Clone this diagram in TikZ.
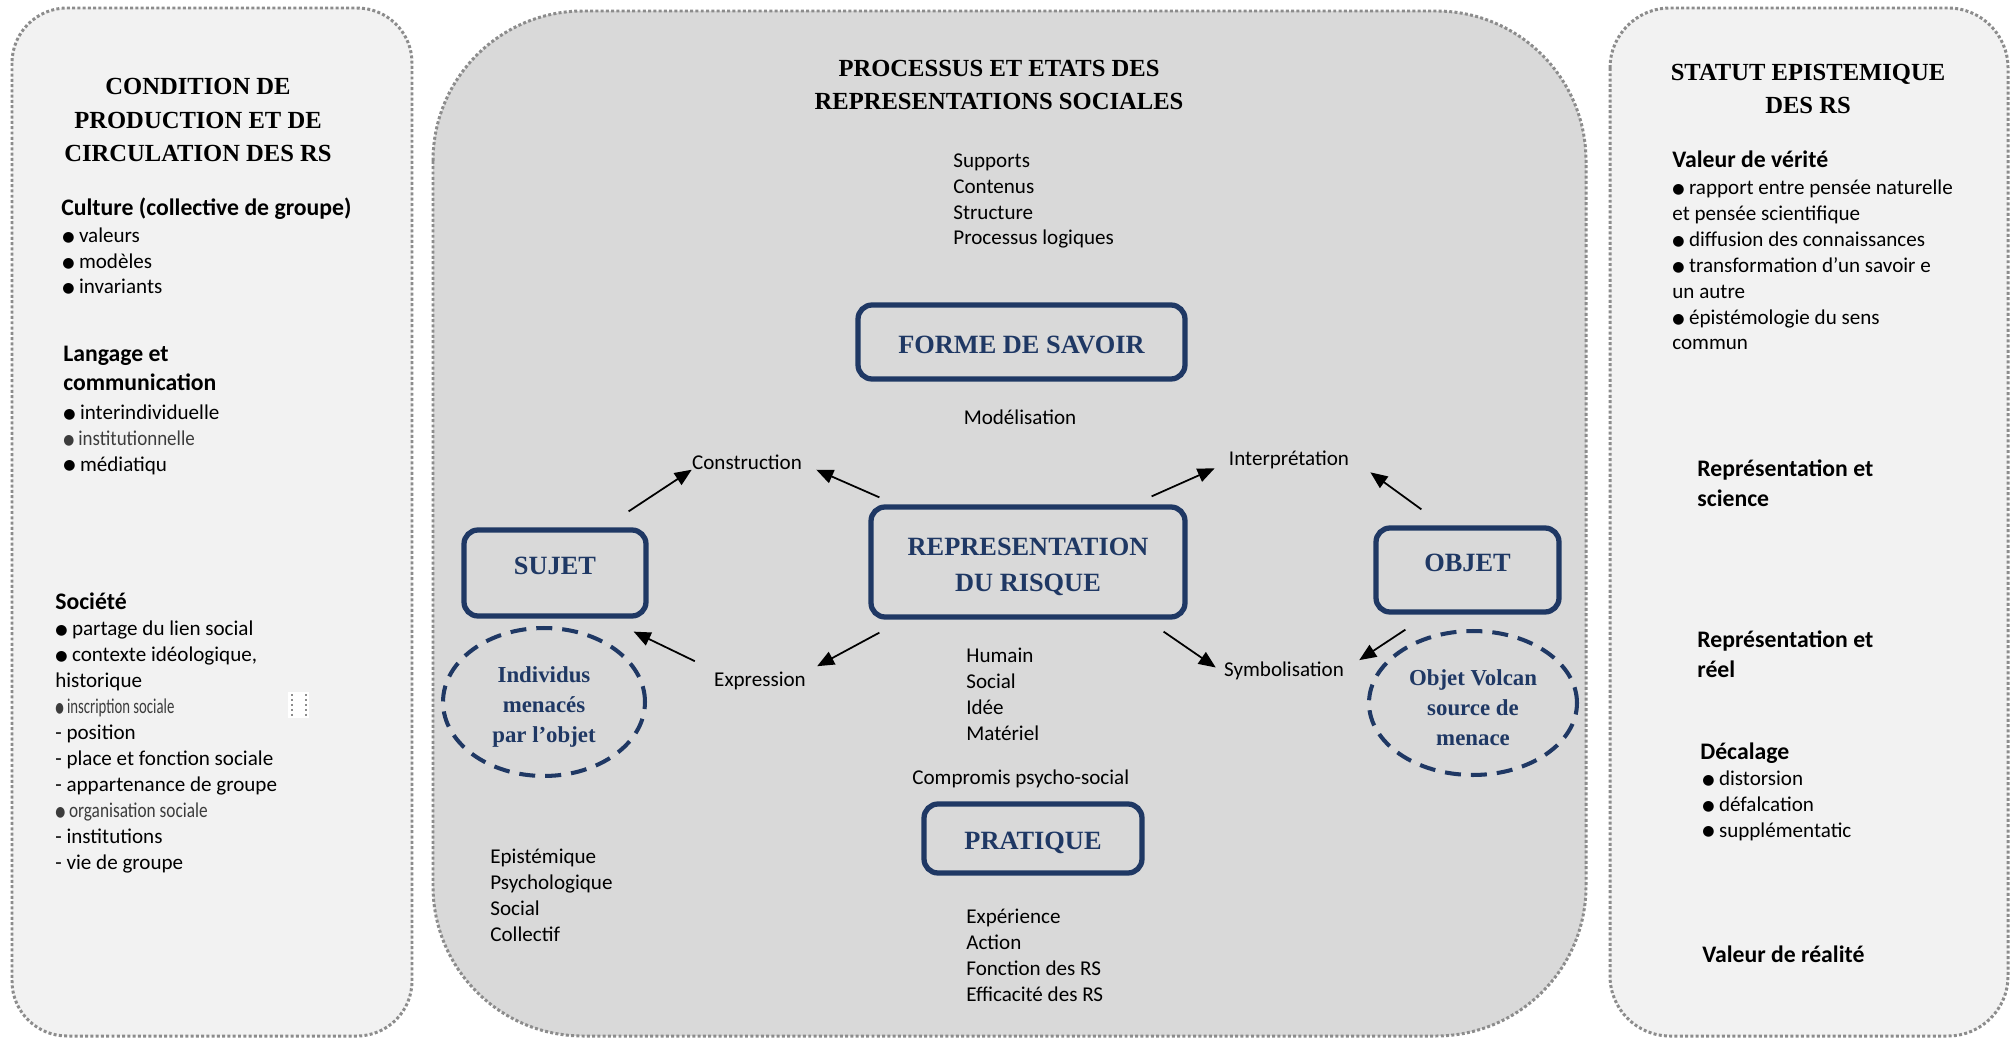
\documentclass[tikz,border=0pt]{standalone}
\usepackage{fontspec}
\usepackage{graphicx}
\setmainfont{Carlito}
\newfontfamily\rsserif{Liberation Serif}
\newfontfamily\rssym{DejaVu Sans}
\usetikzlibrary{arrows.meta,shapes.geometric}

\definecolor{rsblue}{RGB}{31,56,100}
\definecolor{panelgray}{RGB}{242,242,242}
\definecolor{midgray}{RGB}{217,217,217}
\definecolor{dotgray}{RGB}{140,140,140}
\definecolor{pastegray}{RGB}{60,60,60}

\newcommand{\bodyfont}{\fontsize{12}{14.74}\selectfont}
\newcommand{\headfont}{\fontsize{13.5}{17}\selectfont\bfseries}
\newcommand{\rsbullet}{\raisebox{0.6pt}{\rssym\fontsize{8}{8}\selectfont ●}\hspace{2.5pt}}
\newcommand{\pasted}[2]{\textcolor{pastegray}{\scalebox{#1}[1]{#2}}}
\newcommand{\rsstrut}[1]{\rule{0pt}{#1}}

\begin{document}
\begin{tikzpicture}[x=0.02cm, y=-0.02cm,
    panel/.style={draw=dotgray, line width=1.7pt, dash pattern=on 1.7pt off 1.3pt},
    bigbox/.style={draw=rsblue, line width=3pt, rounded corners=0.28cm, text=rsblue,
        font=\rsserif\bfseries\fontsize{15}{20.4}\selectfont, align=center},
    threat/.style={ellipse, draw=rsblue, line width=2.3pt, dash pattern=on 0.32cm off 0.2cm,
        text=rsblue, font=\rsserif\bfseries\fontsize{13}{17}\selectfont, align=center, inner sep=0},
    paneltitle/.style={font=\rsserif\bfseries\fontsize{14}{19.3}\selectfont, align=center, inner sep=0, anchor=base},
    txt/.style={font=\bodyfont, align=left, inner sep=0, anchor=base west},
    head/.style={font=\headfont, align=left, inner sep=0, anchor=base west},
    lbl/.style={font=\bodyfont, inner sep=0},
    arr/.style={line width=1pt, -{Triangle[length=0.34cm,width=0.28cm]}}]

    \useasboundingbox (0,0) rectangle (2011,1040);
    \fill[white] (0,0) rectangle (2011,1040);

    \draw[panel, fill=panelgray, rounded corners=1.1cm] (12,8) rectangle (412,1036);
    \draw[panel, fill=midgray, rounded corners=3cm] (433,11) rectangle (1586,1036);
    \draw[panel, fill=panelgray, rounded corners=1.2cm] (1610,8) rectangle (2008,1036);

    % condition de production (multi-line nodes sit on their last line)
    \node[paneltitle] (condtitle) at (198,162) {CONDITION DE\\PRODUCTION ET DE\\CIRCULATION DES RS};
    \node[head] (culture) at (61,216) {Culture (collective de groupe)};
    \node[txt] (culturelist) at (62,294) {\rsbullet valeurs\\\rsbullet modèles\\\rsbullet invariants};
    \node[head] (langage) at (63,391) {Langage et\\communication};
    \node[txt] (langlist) at (63,471) {\rsbullet interindividuelle\\\pasted{0.9}{\rsbullet institutionnelle}\\\rsbullet médiatiqu};
    \node[head] (societe) at (55,609) {Société};
    \node[txt] (societelist) at (55,869) {\rsbullet partage du lien social\\\rsbullet contexte idéologique,\\historique\\
        \pasted{0.7}{\rsbullet inscription sociale}\\- position\\- place et fonction sociale\\- appartenance de groupe\\
        \pasted{0.82}{\rsbullet organisation sociale}\\- institutions\\- vie de groupe};
    \fill[white] (288,692) rectangle (309,718);
    \draw[dotgray, line width=1.2pt, dash pattern=on 1.2pt off 1.6pt] (292,694) -- (292,716) (306,694) -- (306,716);

    % processus et etats
    \node[paneltitle] (proctitle) at (999,110) {PROCESSUS ET ETATS DES\\REPRESENTATIONS SOCIALES};
    \node[txt] (supports) at (953,245) {Supports\\Contenus\\Structure\\Processus logiques};
    \node[bigbox, minimum width=6.54cm, minimum height=1.48cm] (savoir) at (1021.5,342) {\rsstrut{13.3pt}FORME DE SAVOIR};
    \node[lbl, anchor=base] (modelis) at (1020,424) {Modélisation};
    \node[bigbox, minimum width=6.28cm, minimum height=2.2cm] (risque) at (1028,562) {\rsstrut{15.5pt}REPRESENTATION\\DU RISQUE};
    \node[bigbox, minimum width=3.64cm, minimum height=1.72cm, text depth=8pt] (sujet) at (555,573) {SUJET};
    \node[bigbox, minimum width=3.66cm, minimum height=1.68cm, text depth=8pt] (objet) at (1467.5,570) {OBJET};
    \node[bigbox, minimum width=4.36cm, minimum height=1.38cm] (pratique) at (1033,838.5) {\rsstrut{14.4pt}PRATIQUE};
    \node[threat, minimum width=4.04cm, minimum height=2.96cm] (individus) at (544,702) {\rsstrut{14.5pt}Individus\\menacés\\par l’objet};
    \node[threat, minimum width=4.16cm, minimum height=2.88cm] (volcan) at (1473,703) {\rsstrut{14.5pt}Objet Volcan\\source de\\menace};

    \node[lbl] (constr) at (747,462) {Construction};
    \node[lbl] (interp) at (1289,460) {Interprétation};
    \node[lbl] (expr) at (760,680.5) {Expression};
    \node[lbl] (symb) at (1284,670.5) {Symbolisation};

    \node[txt] (humain) at (966,740) {Humain\\Social\\Idée\\Matériel};
    \node[txt] (compromis) at (912,784) {Compromis psycho-social};
    \node[txt] (experience) at (966,1001) {Expérience\\Action\\Fonction des RS\\Efficacité des RS};
    \node[txt] (episteme) at (490,941) {Epistémique\\Psychologique\\Social\\Collectif};

    \draw[arr] ([shift={(-20,-16)}]sujet.north east) -- (constr.south west);
    \draw[arr] ([shift={(11,-7)}]risque.north west) -- ([shift={(14,0)}]constr.south east);
    \draw[arr] ([shift={(-19,-10)}]expr.north west) -- ([shift={(-15,13)}]sujet.south east);
    \draw[arr] ([shift={(11,13)}]risque.south west) -- ([shift={(11,-5)}]expr.north east);
    \draw[arr] ([shift={(-36,-8)}]risque.north east) -- ([shift={(-14,-1)}]interp.south west);
    \draw[arr] ([shift={(48,-16)}]objet.north west) -- ([shift={(21,3)}]interp.south east);
    \draw[arr] ([shift={(-24,12)}]risque.south east) -- ([shift={(-8,-3)}]symb.west);
    \draw[arr] ([shift={(32,15)}]objet.south west) -- ([shift={(15,-1)}]symb.north east);

    % statut epistemique
    \node[paneltitle] (statut) at (1808,114) {STATUT EPISTEMIQUE\\DES RS};
    \node[head] (verite) at (1672,168) {Valeur de vérité};
    \node[txt] (veritelist) at (1672,350) {\rsbullet rapport entre pensée naturelle\\et pensée scientifique\\
        \rsbullet diffusion des connaissances\\\rsbullet transformation d’un savoir e\\un autre\\
        \rsbullet épistémologie du sens\\commun};
    \node[head] (science) at (1697,506) {Représentation et\\science};
    \node[head] (reel) at (1697,677) {Représentation et\\réel};
    \node[head] (decalage) at (1700,759) {Décalage};
    \node[txt] (decalist) at (1702,837) {\rsbullet distorsion\\\rsbullet défalcation\\\rsbullet supplémentatic};
    \node[head] (realite) at (1702,962) {Valeur de réalité};
\end{tikzpicture}
\end{document}
